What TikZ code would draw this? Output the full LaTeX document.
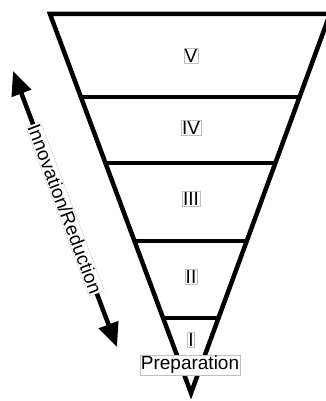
\documentclass[tikz,border=0pt]{standalone}
\usepackage{fontspec}
\setmainfont{Liberation Sans}
\usetikzlibrary{arrows.meta,calc}

\tikzset{
  rim/.style={line width=4.5pt,miter limit=12},
  tierlabel/.style={fill=white,draw=black!25,line width=0.3pt,inner sep=1pt,
    font=\fontsize{19}{19}\selectfont},
}

\begin{document}
\begin{tikzpicture}[x=1pt,y=-1pt]
\useasboundingbox (0,0) rectangle (326,401);

\coordinate (tl) at (50,14);
\coordinate (tr) at (330,14);
\coordinate (apex) at (191,393);

% funnel and its tiers
\draw[rim] (tl) -- (tr) -- (apex) -- cycle;
\foreach \t in {0.219,0.393,0.599,0.802}
  \draw[rim] ($(tl)!\t!(apex)$) -- ($(tr)!\t!(apex)$);

\node[tierlabel] (v) at (191,56) {V};
\node[tierlabel] (iv) at (191,128) {IV};
\node[tierlabel] (iii) at (191,199) {III};
\node[tierlabel] (ii) at (191,277) {II};
\node[tierlabel] (i) at (191,340) {I};
\node[tierlabel] (prep) at (190,365) {Preparation};

% side arrow
\coordinate (up) at (13,71);
\coordinate (down) at (117,347);
\draw[line width=4.5pt,{Triangle[length=24pt,width=20pt]}-{Triangle[length=24pt,width=20pt]}]
  (up) -- node[tierlabel,sloped,midway] (innov) {Innovation/Reduction} (down);
\end{tikzpicture}
\end{document}
